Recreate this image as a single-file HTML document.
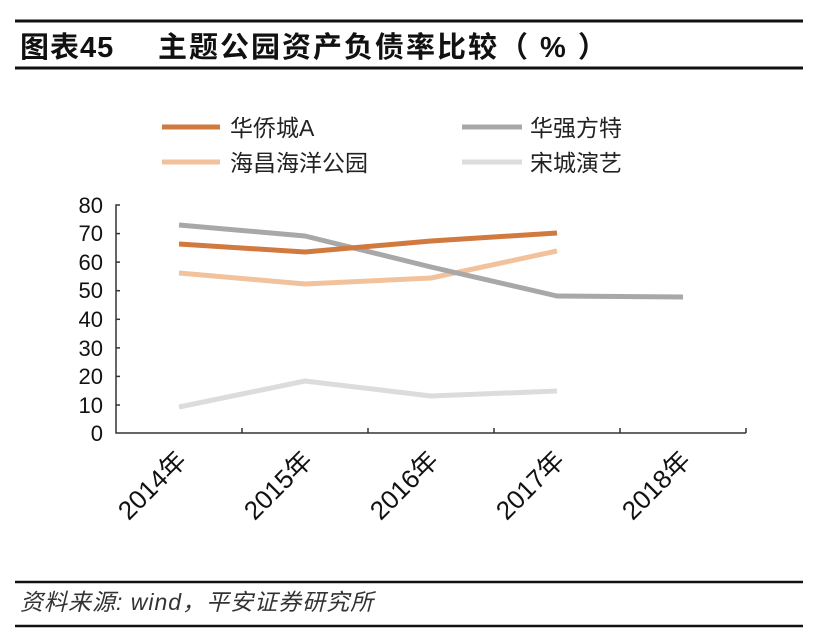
<!DOCTYPE html>
<html><head><meta charset="utf-8"><style>
body{margin:0;background:#fff;}
svg{display:block;}
text{font-family:"Liberation Sans","Noto Sans CJK SC",sans-serif;}
</style></head><body>
<svg width="821" height="639" viewBox="0 0 821 639">
<rect width="821" height="639" fill="#fff"/>
<line x1="15" y1="21" x2="803" y2="21" stroke="#111" stroke-width="3"/>
<text x="20" y="57" font-size="29" font-weight="bold" fill="#111" letter-spacing="1">图表45</text>
<text x="158" y="57" font-size="29" font-weight="bold" fill="#111" letter-spacing="2">主题公园资产负债率比较（ % ）</text>
<line x1="15" y1="68" x2="803" y2="68" stroke="#111" stroke-width="3"/>
<!-- legend -->
<line x1="162" y1="127" x2="220" y2="127" stroke="#d07a40" stroke-width="5"/>
<text x="230" y="136" font-size="23" fill="#222">华侨城A</text>
<line x1="462" y1="127" x2="522" y2="127" stroke="#a8a8a8" stroke-width="5"/>
<text x="530" y="136" font-size="23" fill="#222">华强方特</text>
<line x1="162" y1="162" x2="220" y2="162" stroke="#f1c29c" stroke-width="5"/>
<text x="230" y="171" font-size="23" fill="#222">海昌海洋公园</text>
<line x1="462" y1="162" x2="522" y2="162" stroke="#dcdcdc" stroke-width="5"/>
<text x="530" y="171" font-size="23" fill="#222">宋城演艺</text>
<!-- axes -->
<g stroke="#333" stroke-width="1.5" fill="none">
<polyline points="120,205 116,205 116,433 746,433"/>
<line x1="116" y1="233.6" x2="120" y2="233.6"/><line x1="116" y1="262.1" x2="120" y2="262.1"/>
<line x1="116" y1="290.7" x2="120" y2="290.7"/><line x1="116" y1="319.3" x2="120" y2="319.3"/>
<line x1="116" y1="347.9" x2="120" y2="347.9"/><line x1="116" y1="376.4" x2="120" y2="376.4"/>
<line x1="116" y1="405" x2="120" y2="405"/>
<line x1="242" y1="433" x2="242" y2="428"/><line x1="368" y1="433" x2="368" y2="428"/>
<line x1="494" y1="433" x2="494" y2="428"/><line x1="620" y1="433" x2="620" y2="428"/>
<line x1="746" y1="433" x2="746" y2="428"/>
</g>
<g font-size="22" fill="#111" text-anchor="end">
<text x="103" y="213">80</text><text x="103" y="241">70</text><text x="103" y="270">60</text>
<text x="103" y="298">50</text><text x="103" y="327">40</text><text x="103" y="356">30</text>
<text x="103" y="384">20</text><text x="103" y="413">10</text><text x="103" y="441">0</text>
</g>
<g font-size="26" fill="#111" text-anchor="end">
<text transform="translate(188,462) rotate(-45)">2014年</text>
<text transform="translate(314,462) rotate(-45)">2015年</text>
<text transform="translate(440,462) rotate(-45)">2016年</text>
<text transform="translate(566,462) rotate(-45)">2017年</text>
<text transform="translate(692,462) rotate(-45)">2018年</text>
</g>
<!-- series -->
<g fill="none" stroke-width="5" stroke-linejoin="round">
<polyline stroke="#dcdcdc" points="179,407 305,381 431,396 557,391"/>
<polyline stroke="#f1c29c" points="179,273 305,284 431,278 557,251"/>
<polyline stroke="#a8a8a8" points="179,225 305,236 431,267 557,296 683,297"/>
<polyline stroke="#d07a40" points="179,244 305,252 431,241 557,233"/>
</g>
<line x1="15" y1="582" x2="803" y2="582" stroke="#111" stroke-width="2.5"/>
<text x="20" y="610" font-size="23" font-style="italic" fill="#333" letter-spacing="1">资料来源: wind，平安证券研究所</text>
<line x1="15" y1="626" x2="803" y2="626" stroke="#111" stroke-width="2.5"/>
</svg>
</body></html>
